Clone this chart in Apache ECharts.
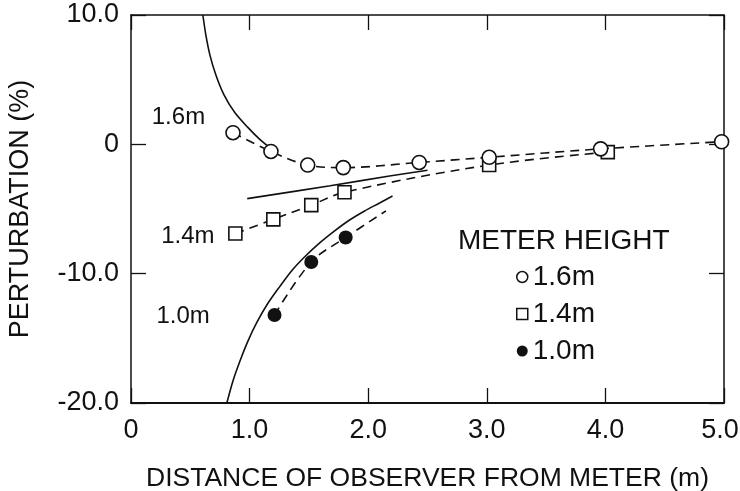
<!DOCTYPE html>
<html>
<head>
<meta charset="utf-8">
<script src="https://cdn.jsdelivr.net/npm/echarts@6/dist/echarts.min.js"></script>
<style>
html,body{margin:0;padding:0;background:#fff;}
#chart{width:740px;height:491px;}
</style>
</head>
<body>
<div id="chart"></div>
<script>
// ---- data ----
var xTicks = [0, 1, 2, 3, 4, 5];
var yTicks = [-20, -10, 0, 10];

// measured points (distance m, perturbation %)
var meas16 = [[0.86, 0.9], [1.18, -0.55], [1.49, -1.6], [1.79, -1.8], [2.43, -1.4], [3.02, -1.0], [3.96, -0.35], [4.98, 0.2]];
var meas14 = [[0.88, -6.9], [1.20, -5.8], [1.52, -4.7], [1.80, -3.7], [3.02, -1.6], [4.02, -0.6]];
var meas10 = [[1.21, -13.2], [1.52, -9.1], [1.81, -7.2]];
var meas10Tail = [2.15, -5.15];   // end of the dashed trend line

// theoretical (solid) curves
var theory16 = [[0.606, 10], [0.631, 8.46], [0.665, 6.92], [0.715, 5.38], [0.783, 3.85], [0.875, 2.46],
                [0.985, 1.31], [1.086, 0.38], [1.187, -0.38]];
var theory14 = [[0.98, -4.2], [1.68, -3.2], [2.18, -2.45], [2.5, -2.0]];
var theory10 = [[0.808, -20], [0.859, -18.31], [0.918, -16.77], [0.985, -15.23], [1.061, -13.77], [1.153, -12.31],
                [1.254, -11.0], [1.355, -9.77], [1.465, -8.69], [1.591, -7.62], [1.717, -6.69], [1.843, -5.85],
                [1.970, -5.15], [2.096, -4.54], [2.205, -4.0]];

// in-plot curve labels
var curveLabels = [['1.6m', 0.40, 2.1], ['1.4m', 0.48, -7.1], ['1.0m', 0.44, -13.3]];

var seriesNames = ['1.6m', '1.4m', '1.0m'];
var legendTitle = 'METER HEIGHT';
var xTitle = 'DISTANCE OF OBSERVER FROM METER (m)';
var yTitle = 'PERTURBATION (%)';

// ---- chart ----
var FONT = '"Liberation Sans", Arial, sans-serif';
var INK = '#111';
var chart = echarts.init(document.getElementById('chart'), null, {renderer: 'canvas'});

function tickFmt(v) { return v === 0 ? '0' : v.toFixed(1); }
function xTickFmt(v) {
  var s = tickFmt(v);
  return v === xTicks[xTicks.length - 1] ? '{last|' + s + '}' : s;
}

var dashed = {color: INK, width: 1.6, type: [9, 6]};
var solid = {color: INK, width: 1.6, type: 'solid'};

var option = {
  backgroundColor: '#fff',
  animation: false,
  title: {
    text: legendTitle, left: 453, top: 222,
    textStyle: {fontFamily: FONT, fontSize: 28, fontWeight: 'normal', color: INK}
  },
  legend: {
    orient: 'vertical', left: 511, top: 258,
    itemWidth: 11, itemHeight: 11, itemGap: 9,
    textStyle: {fontFamily: FONT, fontSize: 28, color: INK, lineHeight: 28},
    data: [
      {name: seriesNames[0], icon: 'circle', itemStyle: {color: '#fff', borderColor: INK, borderWidth: 1.5}},
      {name: seriesNames[1], icon: 'rect', itemStyle: {color: '#fff', borderColor: INK, borderWidth: 1.5}},
      {name: seriesNames[2], icon: 'circle', itemStyle: {color: INK, borderColor: INK, borderWidth: 0}}
    ]
  },
  grid: {left: 131, right: 16, top: 15, bottom: 88, containLabel: false, outerBoundsMode: 'none'},
  xAxis: [{
    type: 'value', min: 0, max: 5, interval: 1,
    name: xTitle, nameLocation: 'middle', nameGap: 62,
    nameTextStyle: {fontFamily: FONT, fontSize: 26.5, color: INK},
    axisLine: {show: true, onZero: false, lineStyle: {color: INK, width: 2}},
    axisTick: {show: true, inside: true, length: 15, lineStyle: {color: INK, width: 1.3}},
    axisLabel: {fontFamily: FONT, fontSize: 27, color: INK, margin: 14, formatter: xTickFmt,
      rich: {last: {fontFamily: FONT, fontSize: 27, color: INK, padding: [0, 8, 0, 0]}}},
    splitLine: {show: false}
  }, {
    type: 'value', position: 'top', min: 0, max: 5, interval: 1,
    axisLine: {show: true, onZero: false, lineStyle: {color: INK, width: 1.5}},
    axisTick: {show: true, inside: true, length: 15, lineStyle: {color: INK, width: 1.3}},
    axisLabel: {show: false}, splitLine: {show: false}
  }],
  yAxis: [{
    type: 'value', min: -20, max: 10, interval: 10,
    name: yTitle, nameLocation: 'middle', nameGap: 97, nameRotate: 90,
    nameTextStyle: {fontFamily: FONT, fontSize: 27, color: INK},
    axisLine: {show: true, onZero: false, lineStyle: {color: INK, width: 1.5}},
    axisTick: {show: true, inside: true, length: 15, lineStyle: {color: INK, width: 1.3}},
    axisLabel: {fontFamily: FONT, fontSize: 27, color: INK, margin: 12, formatter: tickFmt},
    splitLine: {show: false}
  }, {
    type: 'value', position: 'right', min: -20, max: 10, interval: 10,
    axisLine: {show: true, onZero: false, lineStyle: {color: INK, width: 1.5}},
    axisTick: {show: true, inside: true, length: 15, lineStyle: {color: INK, width: 1.3}},
    axisLabel: {show: false}, splitLine: {show: false}
  }],
  series: [
    {name: 'theory16', type: 'line', data: theory16, smooth: 0.3, showSymbol: false, lineStyle: solid, silent: true, z: 2},
    {name: 'theory14', type: 'line', data: theory14, smooth: 0.3, showSymbol: false, lineStyle: solid, silent: true, z: 2},
    {name: 'theory10', type: 'line', data: theory10, smooth: 0.3, showSymbol: false, lineStyle: solid, silent: true, z: 2},
    {name: seriesNames[0], type: 'line', data: meas16, smooth: 0.35, symbol: 'circle', symbolSize: 14,
     itemStyle: {color: '#fff', borderColor: INK, borderWidth: 1.6}, lineStyle: dashed, z: 4},
    {name: seriesNames[1], type: 'line', data: meas14, smooth: 0.35, symbol: 'rect', symbolSize: 13,
     itemStyle: {color: '#fff', borderColor: INK, borderWidth: 1.6}, lineStyle: dashed, z: 3},
    {name: seriesNames[2], type: 'line', smooth: 0.35, symbol: 'circle', symbolSize: 14,
     data: meas10.concat([{value: meas10Tail, symbol: 'none'}]),
     itemStyle: {color: INK, borderColor: INK, borderWidth: 0}, lineStyle: dashed, z: 4},
    {name: 'labels', type: 'scatter', symbolSize: 0, silent: true,
     itemStyle: {opacity: 1},
     data: curveLabels.map(function (d) { return {name: d[0], value: [d[1], d[2]]}; }),
     label: {show: true, position: 'inside', formatter: '{b}', fontFamily: FONT, fontSize: 24, color: INK, opacity: 1}}
  ]
};
chart.setOption(option);
</script>
</body>
</html>
